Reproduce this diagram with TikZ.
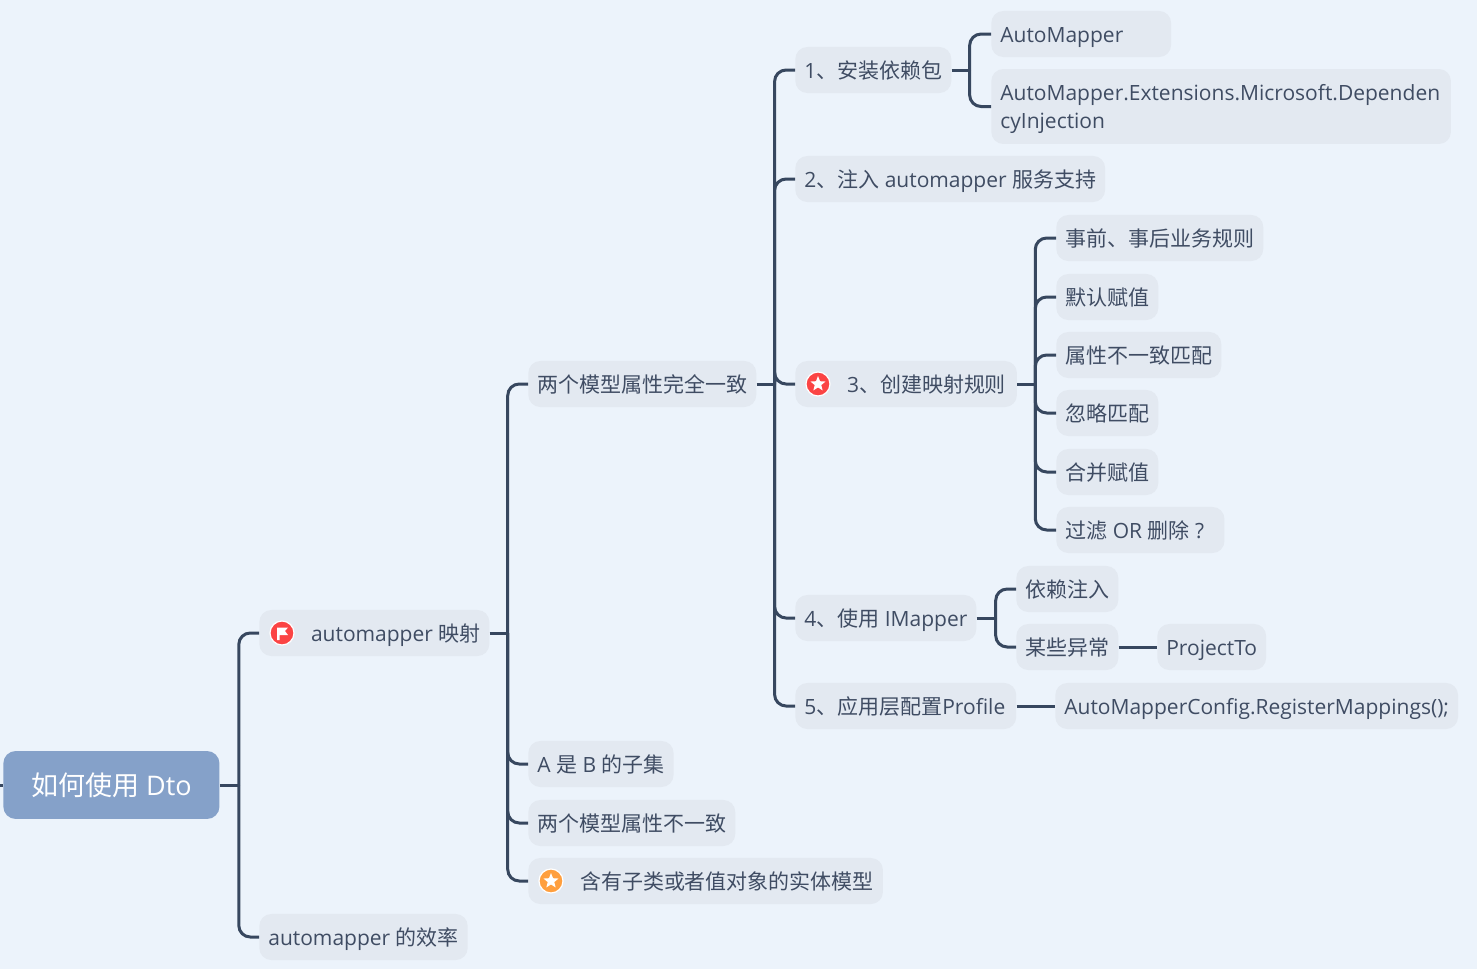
\documentclass[tikz,border=0pt]{standalone}
\usepackage{fontspec}
\setmainfont{Open Sans}
\newfontfamily\cjk{Noto Sans CJK SC}
\usetikzlibrary{shapes.geometric}
\definecolor{mapback}{HTML}{ECF3FB}
\definecolor{topicfill}{HTML}{E3E9F1}
\definecolor{rootfill}{HTML}{85A1C9}
\definecolor{linkdark}{HTML}{37475F}
\definecolor{inkdark}{HTML}{3F4C63}
\definecolor{flagred}{HTML}{FB4444}
\definecolor{starorange}{HTML}{FF9F3E}
\tikzset{
    topic/.style={rectangle, rounded corners=6.8pt, fill=topicfill, text=inkdark, anchor=west,
        font=\fontsize{11.9}{16.4}\selectfont, inner xsep=5.1pt, inner ysep=0pt,
        minimum height=26.1pt, text height=10.8pt, text depth=1.6pt},
    markedtopic/.style={topic, execute at begin node={\hspace*{24.2pt}}},
    badge/.style={circle, fill=#1, draw=white, line width=0.7pt, minimum size=13.6pt, inner sep=0pt},
    whitestar/.style={star, star points=5, star point ratio=2.3, fill=white, minimum size=9pt, inner sep=0pt},
    link/.style={draw=linkdark, line width=1.7pt, rounded corners=6.5pt},
}
\begin{document}
\begin{tikzpicture}[x=0.5669pt, y=-0.5669pt]
    % Page
    \fill[mapback] (0,0) rectangle (1477,969);
    \useasboundingbox (0,0) rectangle (1477,969);

    % Central topic
    \node[rectangle, rounded corners=7pt, fill=rootfill, text=white, anchor=west, minimum width=122.5pt, minimum height=38.5pt, font=\fontsize{15.3}{18}\selectfont] (root) at (3,785) {{\cjk 如何使用} Dto};
    \coordinate (stub) at (0,785);

    % First level
    \node[markedtopic] (mapping) at (259,633) {automapper {\cjk 映射}};
    \node[topic] (speed) at (259,937) {automapper {\cjk 的效率}};

    % Second level
    \node[topic] (same) at (528,384) {\cjk 两个模型属性完全一致};
    \node[topic] (subset) at (528,764) {A {\cjk 是} B {\cjk 的子集}};
    \node[topic] (differ) at (528,823) {\cjk 两个模型属性不一致};
    \node[markedtopic] (nested) at (528,881) {\cjk 含有子类或者值对象的实体模型};

    % Steps
    \node[topic] (install) at (795,70) {1{\cjk 、安装依赖包}};
    \node[topic] (inject) at (795,179) {2{\cjk 、注入} automapper {\cjk 服务支持}};
    \node[markedtopic] (rules) at (795,384) {3{\cjk 、创建映射规则}\hspace*{1.1pt}};
    \node[topic] (imapper) at (795,618) {4{\cjk 、使用} IMapper};
    \node[topic] (profile) at (795,706) {5{\cjk 、应用层配置}Profile\hspace*{1.1pt}};

    % Packages
    \node[topic] (pkgA) at (991,34) {AutoMapper\hspace*{22pt}};
    \node[topic, align=left, text height=34pt, text depth=8.5pt] (pkgB) at (991,106.5) {AutoMapper.Extensions.Microsoft.Dependen\hspace*{1pt}\\cyInjection};

    % Mapping rules
    \node[topic] (ruleA) at (1056,238) {\cjk 事前、事后业务规则};
    \node[topic] (ruleB) at (1056,297) {\cjk 默认赋值};
    \node[topic] (ruleC) at (1056,355) {\cjk 属性不一致匹配};
    \node[topic] (ruleD) at (1056,413) {\cjk 忽略匹配};
    \node[topic] (ruleE) at (1056,472) {\cjk 合并赋值};
    \node[topic] (ruleF) at (1056,530) {{\cjk 过滤} OR {\cjk 删除} ?\hspace*{6.5pt}};

    % IMapper usage
    \node[topic] (useA) at (1016,589) {\cjk 依赖注入};
    \node[topic] (useB) at (1016,647) {\cjk 某些异常};
    \node[topic] (project) at (1157,647) {ProjectTo};
    \node[topic] (config) at (1055,706) {AutoMapperConfig.RegisterMappings();};

    % Markers
    \node[badge=flagred] (flag) at (282,633) {};
    \fill[white] (277,627.5) -- (288,627.5) -- (285,631) -- (288,635) -- (279.5,635) -- (279.5,640) -- (277,640) -- cycle;
    \node[badge=flagred] (redmark) at (818,384) {};
    \node[whitestar] (redstar) at (818,384) {};
    \node[badge=starorange] (orangemark) at (551,881) {};
    \node[whitestar] (orangestar) at (551,881) {};

    % Branches
    \draw[link] (stub) -- (root.west);
    \foreach \from/\off/\kids in {root/19/{mapping,speed}, mapping/18/{same,subset,differ,nested},
            same/18/{install,inject,rules,imapper,profile}, install/18/{pkgA,pkgB},
            rules/18/{ruleA,ruleB,ruleC,ruleD,ruleE,ruleF}, imapper/19/{useA,useB}} {
        \draw[link] (\from.east) -- ++(\off,0);
        \foreach \kid in \kids {
            \draw[link] (\from.east) ++(\off,0) |- (\kid.west);
        }
    }
    \draw[link] (useB) -- (project);
    \draw[link] (profile) -- (config);
\end{tikzpicture}
\end{document}
